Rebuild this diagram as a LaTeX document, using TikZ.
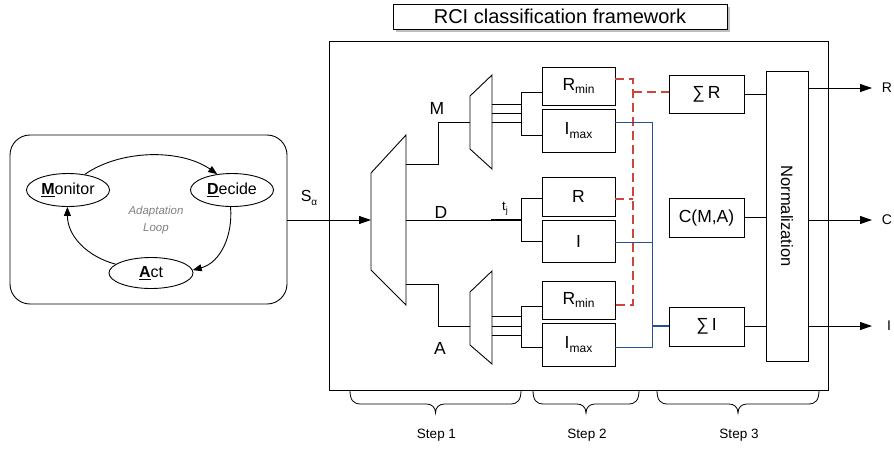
\documentclass[tikz,border=0pt]{standalone}
\usepackage{fontspec}
\setmainfont{Liberation Sans}
\usetikzlibrary{arrows.meta,shapes.geometric,shadows}
\definecolor{rdash}{RGB}{205,70,60}
\definecolor{bline}{RGB}{40,80,150}
\newcommand\sbx[2][12]{\raisebox{-0.4ex}{\fontsize{#1}{#1}\selectfont #2}}
\begin{document}
\begin{tikzpicture}[x=1pt,y=1pt,line width=0.9pt,
  box/.style={draw,rectangle,inner sep=0pt,fill=white,font=\fontsize{17.5}{17.5}\selectfont},
  ell/.style={draw,ellipse,inner sep=0pt,font=\fontsize{16}{16}\selectfont},
  arr/.style={-{Triangle[length=12pt,width=8pt]}},
  looparr/.style={-{Triangle[length=9pt,width=7pt]}},
  lbl/.style={inner sep=0pt,font=\fontsize{17.5}{17.5}\selectfont},
  outlbl/.style={inner sep=0pt,font=\fontsize{14}{14}\selectfont},
  steplbl/.style={inner sep=0pt,font=\fontsize{13.5}{13.5}\selectfont},
  reddash/.style={draw=rdash,line width=1.2pt,dash pattern=on 9pt off 5pt},
  bluewire/.style={draw=bline,line width=1pt},
  trap/.style={draw,fill=white}]
\useasboundingbox (0,0) rectangle (894,-448);

% title
\node[draw,fill=white,minimum width=334pt,minimum height=25pt,inner sep=0pt,
  font=\fontsize{20}{20}\selectfont,
  drop shadow={shadow xshift=3pt,shadow yshift=-3pt,fill=black!25,opacity=1}]
  (title) at (560,-16.5) {RCI classification framework};

% adaptation loop
\node[draw,rounded corners=20pt,minimum width=277pt,minimum height=169pt,inner sep=0pt] (loopbox) at (148.5,-219.5) {};
\node[ell,minimum width=83pt,minimum height=33pt] (mon) at (68,-190) {\underline{\textbf{M}}onitor};
\node[ell,minimum width=83pt,minimum height=33pt] (dec) at (232,-190) {\underline{\textbf{D}}ecide};
\node[ell,minimum width=84pt,minimum height=31pt] (act) at (151,-273) {\underline{\textbf{A}}ct};
\node[inner sep=0pt,align=center,text=black!50,font=\fontsize{11.5}{17}\selectfont\itshape] (loopname) at (156,-220) {Adaptation\\Loop};
\draw[looparr] (mon.43) to[out=35,in=145,looseness=0.85] (dec.133);
\draw[looparr] (dec.265) to[out=-85,in=15] (act.4);
\draw[looparr] (act.166) to[out=165,in=-90] (mon.268);

% main frame
\node[draw,minimum width=499pt,minimum height=349pt,inner sep=0pt] (main) at (578.5,-215.5) {};

% input
\node[inner sep=0pt,font=\fontsize{16}{16}\selectfont] (salpha) at (309,-198) {S\sbx[10]{α}};
\coordinate (dIn) at (371,-220);
\draw[arr] (loopbox.east |- dIn) -- (dIn);

% big demux
\coordinate (dA) at (371,-173);
\coordinate (dB) at (406,-135);
\coordinate (dC) at (406,-305);
\coordinate (dD) at (371,-270);
\draw[trap] (dA) -- (dB) -- (dC) -- (dD) -- cycle;

% small demuxes
\coordinate (tA) at (470,-96);
\coordinate (tB) at (492,-75);
\coordinate (tC) at (492,-169);
\coordinate (tD) at (470,-149);
\draw[trap] (tA) -- (tB) -- (tC) -- (tD) -- cycle;
\coordinate (bA) at (470,-292);
\coordinate (bB) at (492,-271);
\coordinate (bC) at (492,-364);
\coordinate (bD) at (470,-345);
\draw[trap] (bA) -- (bB) -- (bC) -- (bD) -- cycle;

% boxes step 2
\node[box,minimum width=73pt,minimum height=38pt] (rmin1) at (578.5,-86) {R\sbx{min}};
\node[box,minimum width=73pt,minimum height=43pt] (imax1) at (578.5,-130.5) {I\sbx{max}};
\node[box,minimum width=73pt,minimum height=39pt] (r2) at (578.5,-196.5) {R};
\node[box,minimum width=73pt,minimum height=42pt] (i2) at (578.5,-241) {I};
\node[box,minimum width=73pt,minimum height=38pt] (rmin3) at (578.5,-300) {R\sbx{min}};
\node[box,minimum width=73pt,minimum height=43pt] (imax3) at (578.5,-344.5) {I\sbx{max}};

% step 3 boxes
\node[box,minimum width=75pt,minimum height=38pt] (sumr) at (706.5,-94) {∑\,R};
\node[box,minimum width=75pt,minimum height=39pt] (cma) at (706.5,-217.5) {C(M,A)};
\node[box,minimum width=75pt,minimum height=39pt] (sumi) at (706.5,-326.5) {∑\,I};
\node[box,minimum width=42pt,minimum height=290pt] (norm) at (787,-216) {};
\node[inner sep=0pt,rotate=-90,font=\fontsize{16.5}{16.5}\selectfont] (normtxt) at (norm.center) {Normalization};

% M branch
\coordinate (mOut) at (406,-164);
\coordinate (mIn) at (470,-122);
\draw (mOut) -- (438,-164) -- (438,-122) -- (mIn);
\node[lbl] (mlbl) at (437,-108) {M};
% D branch
\coordinate (dOut) at (406,-220);
\coordinate (dJ) at (521,-220);
\draw (dOut) -- (dJ);
\draw[line width=1.6pt] (491,-220) -- (dJ);
\node[lbl] (dlbl) at (441,-212) {D};
\node[inner sep=0pt,font=\fontsize{13}{13}\selectfont] (tj) at (505,-209) {t\sbx[9]{j}};
\coordinate (dT) at (521,-198);
\coordinate (dBt) at (521,-241);
\draw (dT) -- (dBt);
\draw (dT) -- (dT -| r2.west);
\draw (dBt) -- (dBt -| i2.west);
% A branch
\coordinate (aOut) at (406,-284);
\coordinate (aIn) at (470,-326);
\draw (aOut) -- (438,-284) -- (438,-326) -- (aIn);
\node[lbl] (albl) at (440,-348) {A};

% top demux outputs
\coordinate (tJ1) at (521,-92);
\coordinate (tJ2) at (521,-135);
\foreach \yy in {104,113,122} \draw (492,-\yy) -- (521,-\yy);
\draw (tJ1) -- (tJ2);
\draw (tJ1) -- (tJ1 -| rmin1.west);
\draw (tJ2) -- (tJ2 -| imax1.west);
% bottom demux outputs
\coordinate (bJ1) at (521,-306);
\coordinate (bJ2) at (521,-347);
\foreach \yy in {316,326,335} \draw (492,-\yy) -- (521,-\yy);
\draw (bJ1) -- (bJ2);
\draw (bJ1) -- (bJ1 -| rmin3.west);
\draw (bJ2) -- (bJ2 -| imax3.west);

% red dashed R collection
\coordinate (rv1) at (633,-79);
\coordinate (rv2) at (633,-305);
\draw[reddash] (rv1 -| rmin1.east) -- (rv1) -- (rv2) -- (rv2 -| rmin3.east);
\coordinate (rvm) at (633,-199);
\draw[reddash] (rvm -| r2.east) -- (rvm);
\coordinate (rvs) at (633,-92);
\draw[reddash] (rvs) -- (rvs -| sumr.west);

% blue I collection
\coordinate (bv1) at (652,-122);
\coordinate (bv2) at (652,-347);
\draw[bluewire] (bv1 -| imax1.east) -- (bv1) -- (bv2) -- (bv2 -| imax3.east);
\coordinate (bvm) at (652,-242);
\draw[bluewire] (bvm -| i2.east) -- (bvm);
\coordinate (bvs) at (652,-326);
\draw[bluewire,line width=1.7pt] (bvs) -- (bvs -| sumi.west);

% into normalization
\draw (sumr.east) -- (sumr.east -| norm.west);
\draw (cma.east) -- (cma.east -| norm.west);
\draw (sumi.east) -- (sumi.east -| norm.west);

% outputs
\coordinate (oR) at (872,-88);
\coordinate (oC) at (872,-220);
\coordinate (oI) at (872,-326);
\draw[arr] (oR -| norm.east) -- (oR);
\draw[arr] (oC -| norm.east) -- (oC);
\draw[arr] (oI -| norm.east) -- (oI);
\node[outlbl] (lR) at (887,-88) {R};
\node[outlbl] (lC) at (887,-220) {C};
\node[outlbl] (lI) at (889,-326) {I};

% braces
\foreach \a/\b/\t in {350/521/Step 1, 533/639/Step 2, 657/819/Step 3} {
  \pgfmathsetmacro\m{(\a+\b)/2}
  \draw[line width=0.8pt] (\a,-390) .. controls (\a,-400) and (\a+3,-404) .. (\a+11,-404)
    -- (\m-9,-404) .. controls (\m-4,-404) and (\m,-407) .. (\m,-413)
    .. controls (\m,-407) and (\m+4,-404) .. (\m+9,-404)
    -- (\b-11,-404) .. controls (\b-3,-404) and (\b,-400) .. (\b,-390);
  \node[steplbl] at (\m+1,-435) {\t};
}
\end{tikzpicture}
\end{document}
